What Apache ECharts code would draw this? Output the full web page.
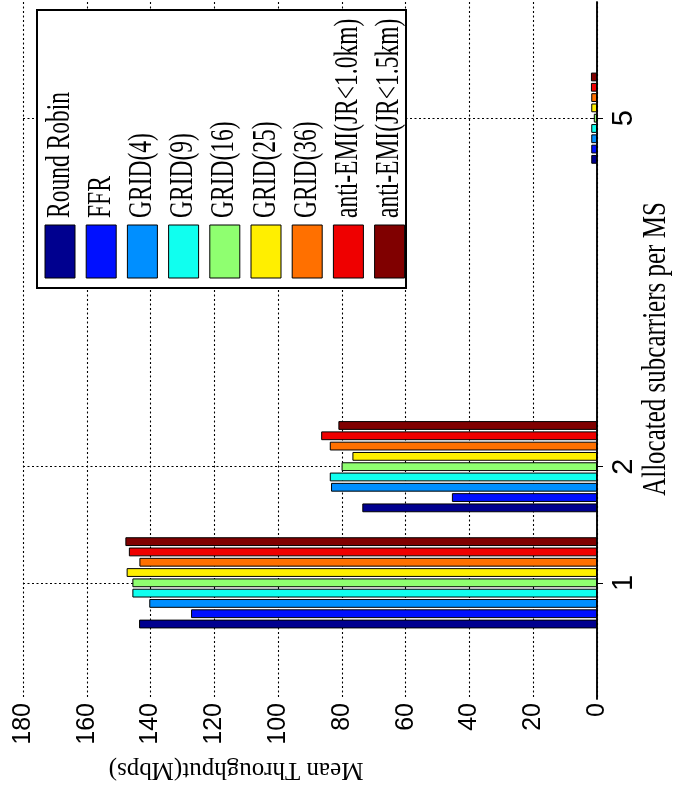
<!DOCTYPE html>
<html>
<head>
<meta charset="utf-8">
<script src="https://cdn.jsdelivr.net/npm/echarts@6/dist/echarts.min.js"></script>
<style>
  html, body { margin: 0; padding: 0; background: #fff; }
  #chart { width: 677px; height: 790px; }
</style>
</head>
<body>
<div id="chart"></div>
<script>
// subcarrier counts shown on the (vertical) category axis
const subcarriers = [1, 2, 5];
const subcarrierMax = 6;
const throughputTicks = [0, 20, 40, 60, 80, 100, 120, 140, 160, 180];

const schemeNames = [
    'Round Robin', 'FFR', 'GRID(4)', 'GRID(9)', 'GRID(16)',
    'GRID(25)', 'GRID(36)', 'anti-EMI(JR<1.0km)', 'anti-EMI(JR<1.5km)',
];
const schemeColors = [
    '#00008f', '#0010ff', '#008fff', '#10ffef', '#8fff70',
    '#ffef00', '#ff7000', '#ef0000', '#800000',
];

// mean throughput (Mbps) per scheme, at 1, 2, 5 subcarriers
const roundRobin = [143.6, 73.6, 1.8];
const ffr = [127.3, 45.5, 1.8];
const grid4 = [140.4, 83.4, 1.8];
const grid9 = [145.7, 83.8, 1.8];
const grid16 = [145.7, 80.1, 1.0];
const grid25 = [147.5, 76.7, 1.8];
const grid36 = [143.5, 83.8, 1.8];
const antiEmi10 = [146.8, 86.5, 1.9];
const antiEmi15 = [147.9, 81.1, 1.9];
const schemeValues = [roundRobin, ffr, grid4, grid9, grid16, grid25, grid36, antiEmi10, antiEmi15];

const SERIF = '"Liberation Serif", "Times New Roman", serif';
const SANS = '"Liberation Sans", Arial, sans-serif';

const axisCats = [];
for (let i = 0; i <= subcarrierMax; i++) axisCats.push(String(i));
const isTick = (idx) => subcarriers.indexOf(idx) >= 0;

function toAxisData(vals) {
    const out = axisCats.map(() => null);
    subcarriers.forEach((s, k) => { out[s] = vals[k]; });
    return out;
}

const blackLine = {lineStyle: {color: '#000', width: 1.5}};
const dotted = {color: '#000', type: [2, 2.5], width: 1.1};

// last scheme first so Round Robin ends up at the bottom of each group
const series = [];
for (let i = schemeNames.length - 1; i >= 0; i--) {
    series.push({
        type: 'bar',
        name: schemeNames[i],
        barWidth: 8.8,
        barGap: '17%',
        itemStyle: {color: schemeColors[i], borderColor: '#000', borderWidth: 1},
        data: toAxisData(schemeValues[i]),
    });
}

// hand-drawn legend (rotated like the rest of the figure)
const graphics = [{
    type: 'rect',
    shape: {x: 37, y: 10, width: 369, height: 278},
    style: {fill: '#fff', stroke: '#000', lineWidth: 2},
    z: 10,
}];
schemeNames.forEach((name, i) => {
    const x0 = 45 + i * 41.2;
    graphics.push({
        type: 'rect',
        shape: {x: x0, y: 225, width: 30, height: 53},
        style: {fill: schemeColors[i], stroke: '#000', lineWidth: 1},
        z: 11,
    });
    graphics.push({
        type: 'text',
        x: x0 + 15,
        y: 218,
        rotation: Math.PI / 2,
        scaleY: 1.4,
        style: {text: name, font: '23.5px ' + SERIF, fill: '#000', align: 'left', verticalAlign: 'middle'},
        z: 11,
    });
});
// axis titles
graphics.push({
    type: 'text',
    x: 236,
    y: 770,
    rotation: Math.PI,
    style: {text: 'Mean Throughput(Mbps)', font: '25px ' + SERIF, fill: '#000', align: 'center', verticalAlign: 'middle'},
});
graphics.push({
    type: 'text',
    x: 656,
    y: 349,
    rotation: Math.PI / 2,
    scaleY: 1.35,
    style: {text: 'Allocated subcarriers per MS', font: '25px ' + SERIF, fill: '#000', align: 'center', verticalAlign: 'middle'},
});

const chart = echarts.init(document.getElementById('chart'));
chart.setOption({
    backgroundColor: '#fff',
    animation: false,
    grid: {left: 23, right: 80, top: 2, bottom: 91},
    xAxis: [{
        type: 'value',
        inverse: true,
        position: 'bottom',
        min: throughputTicks[0],
        max: throughputTicks[throughputTicks.length - 1],
        interval: throughputTicks[1] - throughputTicks[0],
        axisLine: blackLine,
        axisTick: {inside: true, length: 6, lineStyle: {color: '#000'}},
        axisLabel: {rotate: 90, margin: 4, fontSize: 25, fontFamily: SANS, color: '#000'},
        splitLine: {show: true, lineStyle: dotted},
    }, {
        type: 'value',
        inverse: true,
        position: 'top',
        min: throughputTicks[0],
        max: throughputTicks[throughputTicks.length - 1],
        interval: throughputTicks[1] - throughputTicks[0],
        axisLine: blackLine,
        axisTick: {inside: true, length: 6, lineStyle: {color: '#000'}},
        axisLabel: {show: false},
        splitLine: {show: false},
    }],
    yAxis: [{
        type: 'category',
        position: 'right',
        data: axisCats,
        boundaryGap: false,
        axisLine: blackLine,
        axisTick: {inside: true, length: 6, interval: isTick, lineStyle: {color: '#000'}},
        axisLabel: {interval: isTick, rotate: 90, margin: 12, fontSize: 29, fontFamily: SANS, color: '#000'},
        splitLine: {show: true, interval: isTick, lineStyle: dotted},
    }, {
        type: 'category',
        position: 'left',
        data: axisCats,
        boundaryGap: false,
        axisLine: blackLine,
        axisTick: {inside: true, length: 6, interval: isTick, lineStyle: {color: '#000'}},
        axisLabel: {show: false},
        splitLine: {show: false},
    }],
    graphic: graphics,
    series: series,
});
</script>
</body>
</html>
